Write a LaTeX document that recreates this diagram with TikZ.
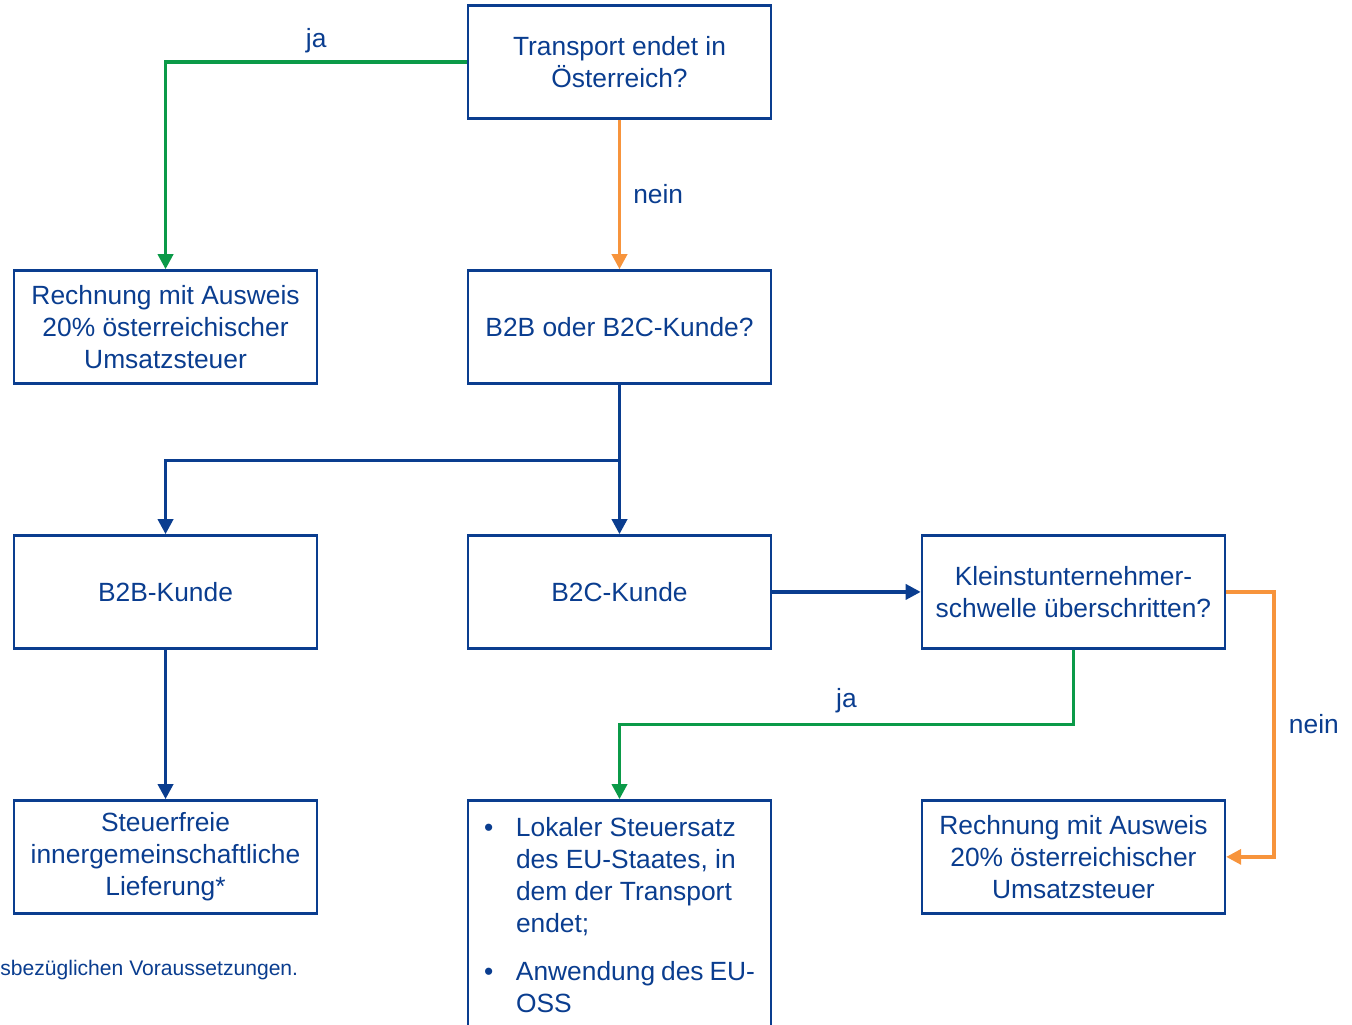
\documentclass[tikz,border=0pt]{standalone}
\usepackage{fontspec}
\setmainfont{Liberation Sans}
\usepackage{xcolor}
\definecolor{boxBlue}{HTML}{0A3D8F}
\definecolor{yesGreen}{HTML}{0B9A48}
\definecolor{noOrange}{HTML}{F7943C}
\usepackage{tikz}
\usetikzlibrary{
    arrows.meta,
    positioning
}
\tikzset{
    % Base style for all texts
    flow base/.style={
        font=\fontsize{15}{18.2}\selectfont,
        align=center,
        text=boxBlue,
    },
    % Question and result boxes - plain blue frame
    stepbox/.style={
        flow base,
        rectangle,
        draw=boxBlue,
        line width=1.4pt,
        minimum width=6.06cm,
        minimum height=2.26cm,
        inner sep=2pt,
    },
    % Arrow style - straight, blue
    arrow/.style={
        -{Triangle[length=3mm, width=3mm]},
        line width=2pt,
        draw=boxBlue,
    },
    % Yes / no variants
    arrow yes/.style={
        arrow,
        draw=yesGreen,
    },
    arrow no/.style={
        arrow,
        draw=noOrange,
    },
    % Label style for ja/nein
    edge label/.style={
        flow base,
        inner sep=0pt,
    },
}

\begin{document}
\begin{tikzpicture}[node distance=2.99cm and 2.97cm]
    \useasboundingbox (0,0) rectangle (27.04,-20.48);

    \node (transport) [stepbox] at (12.39,-1.24) {Transport endet in\\Österreich?};
    \node (kundenart) [stepbox, below=of transport] {B2B oder B2C-Kunde?};
    \node (ust_at) [stepbox, left=of kundenart] {Rechnung mit Ausweis\\20\% österreichischer\\Umsatzsteuer};
    \node (b2c) [stepbox, below=of kundenart] {B2C-Kunde};
    \node (b2b) [stepbox, left=of b2c] {B2B-Kunde};
    \node (schwelle) [stepbox, right=of b2c] {Kleinstunternehmer-\\schwelle überschritten?};
    \node (steuerfrei) [stepbox, below=of b2b] {Steuerfreie\\innergemeinschaftliche\\Lieferung*};
    \node (eu_oss) [stepbox, below=of b2c, minimum height=4.72cm, align=left, inner xsep=0.32cm] {%
        \begin{tabular}{@{}p{0.64cm}@{}p{4.78cm}@{}}
            \textbullet & Lokaler Steuersatz\newline des EU-Staates, in\newline dem der Transport\newline endet;\\[0.32cm]
            \textbullet & Anwendung des EU-\newline OSS
        \end{tabular}};
    \node (ust_at2) [stepbox, below=of schwelle] {Rechnung mit Ausweis\\20\% österreichischer\\Umsatzsteuer};
    \node (fussnote) [edge label, font=\fontsize{12}{14}\selectfont, anchor=west] at (0,-19.40) {sbezüglichen Voraussetzungen.};

    \draw [arrow yes] (transport.west) -| node[edge label, above=0.14cm, pos=0.25] {ja} (ust_at.north);
    \draw [arrow no] (transport) -- node[edge label, right=0.24cm] {nein} (kundenart);
    \draw [arrow] (kundenart.south) -- (b2c.north);
    \draw [arrow] (kundenart.south) -- ++(0,-1.52) -| (b2b.north);
    \draw [arrow] (b2c) -- (schwelle);
    \draw [arrow] (b2b) -- (steuerfrei);
    \draw [arrow yes] (schwelle.south) -- ++(0,-1.5) -| node[edge label, above=0.2cm, pos=0.25] {ja} (eu_oss.north);
    \draw [arrow no] (schwelle.east) -- ++(0.96,0) |- node[edge label, right=0.26cm, pos=0.25] {nein} (ust_at2.east);
\end{tikzpicture}
\end{document}
